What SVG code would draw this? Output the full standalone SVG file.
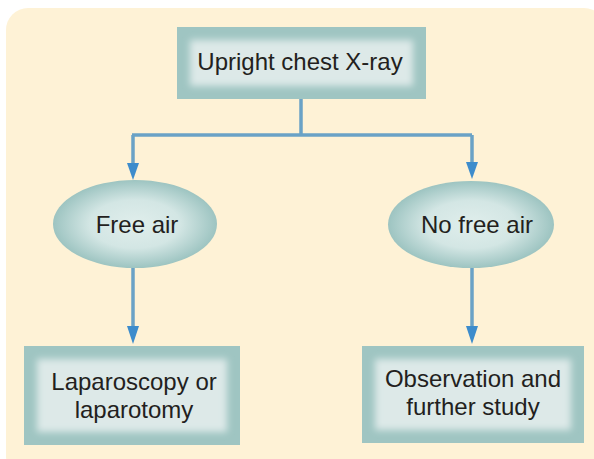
<svg xmlns="http://www.w3.org/2000/svg" width="594" height="459" viewBox="0 0 594 459">
<defs>
<style>
.t{font-family:"Liberation Sans",Arial,sans-serif;font-size:24px;fill:#231f20;text-anchor:middle}
.frame{fill:#9fc5c2}
.inner{fill:#dde9e8;filter:url(#soft)}
.ell{fill:url(#rg)}
.ln{fill:none;stroke:#6aa2c6;stroke-width:3.5}
</style>
<filter id="soft" x="-20%" y="-20%" width="140%" height="140%"><feGaussianBlur stdDeviation="3.5"/></filter>
<radialGradient id="rg" cx="50%" cy="50%" r="50%">
<stop offset="0" stop-color="#e0eeec"/>
<stop offset="0.55" stop-color="#d3e6e4"/>
<stop offset="1" stop-color="#9dc4c1"/>
</radialGradient>
</defs>
<rect x="6" y="8" width="600" height="470" rx="22" fill="#fef2d6"/>
<g id="connectors">
<path class="ln" d="M301,99 V135"/>
<path class="ln" d="M132,135 H472"/>
<path class="ln" d="M133,135 V165"/>
<path class="ln" d="M472,135 V163"/>
<polygon points="127,163 139,163 133,180" fill="#3d8ccc"/>
<polygon points="466,162 478,162 472,179" fill="#3d8ccc"/>
<path class="ln" d="M133,268 V328"/>
<path class="ln" d="M472,268 V328"/>
<polygon points="127,326 139,326 133,344" fill="#3d8ccc"/>
<polygon points="466,326 478,326 472,344" fill="#3d8ccc"/>
</g>
<g id="n1">
<rect class="frame" x="177" y="27" width="249" height="72"/>
<rect class="inner" x="190" y="40" width="223" height="46"/>
<text class="t" x="300" y="70">Upright chest X-ray</text>
</g>
<g id="n2">
<ellipse class="ell" cx="135" cy="224" rx="82" ry="44"/>
<text class="t" x="137" y="233">Free air</text>
</g>
<g id="n3">
<ellipse class="ell" cx="471" cy="224.5" rx="83" ry="43.5"/>
<text class="t" x="477" y="233">No free air</text>
</g>
<g id="n4">
<rect class="frame" x="24" y="346" width="216" height="99"/>
<rect class="inner" x="37" y="359" width="190" height="73"/>
<text class="t" x="134" y="390">Laparoscopy or</text>
<text class="t" x="134" y="418">laparotomy</text>
</g>
<g id="n5">
<rect class="frame" x="362" y="346" width="222" height="97"/>
<rect class="inner" x="375" y="359" width="196" height="71"/>
<text class="t" x="473" y="387">Observation and</text>
<text class="t" x="473" y="415">further study</text>
</g>
</svg>
